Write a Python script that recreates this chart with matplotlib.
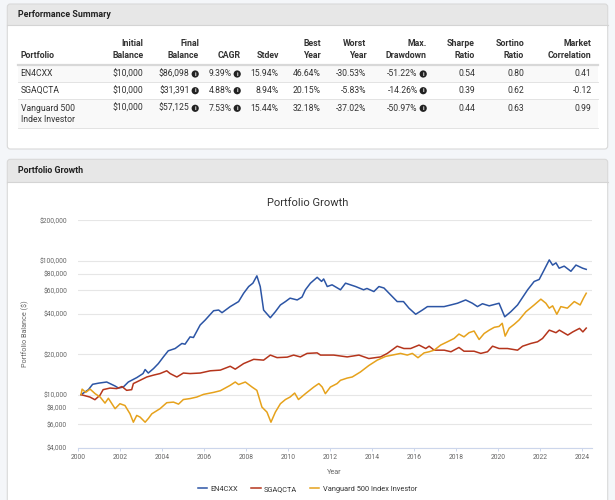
import matplotlib
matplotlib.use('Agg')
import matplotlib.pyplot as plt
from matplotlib.patches import FancyBboxPatch, Rectangle, Circle
from matplotlib.ticker import FixedLocator, FuncFormatter, NullLocator

plt.rcParams['font.family'] = ['Roboto', 'DejaVu Sans']

# ---- table data ----
col_heads = [('', 'Portfolio'), ('Initial', 'Balance'), ('Final', 'Balance'), ('', 'CAGR'),
             ('', 'Stdev'), ('Best', 'Year'), ('Worst', 'Year'), ('Max.', 'Drawdown'),
             ('Sharpe', 'Ratio'), ('Sortino', 'Ratio'), ('Market', 'Correlation')]
portfolios = ['EN4CXX', 'SGAQCTA', 'Vanguard 500\nIndex Investor']
initial_balance = ['$10,000', '$10,000', '$10,000']
final_balance = ['$86,098', '$31,391', '$57,125']
cagr = ['9.39%', '4.88%', '7.53%']
stdev = ['15.94%', '8.94%', '15.44%']
best_year = ['46.64%', '20.15%', '32.18%']
worst_year = ['-30.53%', '-5.83%', '-37.02%']
max_drawdown = ['-51.22%', '-14.26%', '-50.97%']
sharpe = ['0.54', '0.39', '0.44']
sortino = ['0.80', '0.62', '0.63']
market_corr = ['0.41', '-0.12', '0.99']

# ---- growth series ----
en_years = [2000.15, 2000.5, 2000.7, 2001.0, 2001.37, 2001.77, 2001.93, 2002.16, 2002.4, 2002.8,
            2003.1, 2003.2, 2003.35, 2003.6, 2003.83, 2004.07, 2004.3, 2004.63, 2004.95, 2005.1,
            2005.34, 2005.5, 2005.82, 2006.06, 2006.46, 2006.7, 2006.86, 2007.25, 2007.65, 2007.89,
            2008.13, 2008.33, 2008.52, 2008.68, 2008.84, 2009.16, 2009.4, 2009.64, 2009.88, 2010.1,
            2010.44, 2010.67, 2010.83, 2011.07, 2011.39, 2011.6, 2011.7, 2011.87, 2012.1, 2012.5,
            2012.74, 2013.22, 2013.6, 2013.76, 2014.09, 2014.33, 2014.57, 2014.89, 2015.2, 2015.5,
            2015.76, 2016.08, 2016.4, 2016.64, 2016.96, 2017.43, 2017.75, 2018.07, 2018.46, 2018.78,
            2019.02, 2019.26, 2019.58, 2020.05, 2020.32, 2020.61, 2020.93, 2021.41, 2021.72, 2021.96,
            2022.2, 2022.44, 2022.6, 2022.76, 2022.91, 2023.15, 2023.47, 2023.71, 2024.03, 2024.2]
en_values = [10000, 10900, 11950, 12200, 12430, 11600, 11200, 11400, 12430, 13400,
             14370, 15400, 14500, 15660, 17060, 19130, 21240, 22100, 24100, 23800,
             26990, 26700, 33100, 36050, 42300, 42800, 40900, 45400, 49500, 57100,
             64100, 67900, 77000, 64100, 42800, 37500, 41600, 46700, 49500, 52500,
             50900, 53500, 60600, 67900, 75100, 70000, 73000, 64100, 66000, 60600,
             67900, 64100, 60600, 62000, 58800, 64100, 62500, 55500, 49500, 49500,
             44200, 39800, 42800, 45400, 45400, 45400, 46700, 48100, 50900, 48100,
             45400, 47700, 46000, 48100, 38100, 41600, 46700, 60600, 69900, 72400,
             85500, 101300, 92600, 96300, 87800, 91000, 83300, 92700, 87800, 86098]

sg_years = [2000.15, 2000.57, 2000.81, 2001.05, 2001.2, 2001.53, 2001.85, 2002.1, 2002.32, 2002.56,
            2002.64, 2002.96, 2003.28, 2003.6, 2003.91, 2004.23, 2004.39, 2004.71, 2005.02, 2005.34,
            2005.82, 2006.3, 2006.78, 2007.25, 2007.49, 2007.89, 2008.37, 2008.84, 2009.16, 2009.48,
            2009.96, 2010.27, 2010.59, 2010.91, 2011.39, 2011.55, 2012.18, 2012.82, 2013.38, 2013.85,
            2014.41, 2014.73, 2015.2, 2015.52, 2015.84, 2016.24, 2016.56, 2016.72, 2016.96, 2017.44,
            2017.76, 2018.14, 2018.38, 2018.86, 2019.18, 2019.5, 2019.74, 2020.05, 2020.45, 2020.93,
            2021.17, 2021.56, 2021.88, 2022.12, 2022.44, 2022.76, 2022.92, 2023.32, 2023.56, 2023.88,
            2024.04, 2024.2]
sg_values = [10000, 9600, 9170, 9900, 10900, 11200, 11100, 11500, 10770, 10900,
             12100, 12800, 13550, 13990, 14370, 15070, 14370, 13550, 14500, 14370,
             14500, 15070, 15250, 16290, 15500, 17060, 18350, 18100, 19740, 18900,
             19050, 19740, 19130, 20320, 20500, 19740, 19740, 19130, 19740, 18600,
             19130, 20320, 23000, 22100, 22100, 23450, 22100, 23000, 21480, 21480,
             20900, 22500, 21100, 21100, 20320, 20900, 23000, 22100, 22100, 21480,
             23000, 24100, 24800, 26270, 30310, 29000, 30310, 27840, 29400, 31230,
             29400, 31391]

vf_years = [2000.15, 2000.2, 2000.37, 2000.58, 2000.82, 2001.06, 2001.29, 2001.45, 2001.77, 2002.0,
            2002.24, 2002.48, 2002.64, 2002.8, 2002.96, 2003.2, 2003.36, 2003.52, 2003.91, 2004.23,
            2004.55, 2004.79, 2005.02, 2005.34, 2005.66, 2005.98, 2006.46, 2006.78, 2007.25, 2007.49,
            2007.65, 2007.97, 2008.29, 2008.52, 2008.76, 2009.0, 2009.19, 2009.4, 2009.64, 2009.88,
            2010.1, 2010.32, 2010.5, 2010.83, 2011.23, 2011.47, 2011.63, 2011.78, 2012.02, 2012.34,
            2012.5, 2012.82, 2013.06, 2013.45, 2013.85, 2014.25, 2014.65, 2014.97, 2015.36, 2015.68,
            2015.92, 2016.19, 2016.48, 2016.72, 2016.96, 2017.27, 2017.59, 2017.91, 2018.14, 2018.38,
            2018.62, 2018.86, 2019.1, 2019.34, 2019.58, 2019.82, 2020.05, 2020.2, 2020.34, 2020.53,
            2020.77, 2021.0, 2021.33, 2021.72, 2022.04, 2022.28, 2022.44, 2022.6, 2022.8, 2022.99,
            2023.3, 2023.63, 2023.91, 2024.07, 2024.2]
vf_values = [10000, 11000, 10400, 11000, 10170, 9600, 8650, 9400, 7860, 8560,
             8300, 7200, 6230, 7000, 6800, 6230, 6660, 7200, 7860, 8710,
             8800, 8500, 9200, 9350, 9600, 10050, 10400, 10700, 11740, 12430,
             11900, 12430, 11400, 10770, 8080, 7410, 6230, 7410, 8560, 9200,
             9600, 10280, 9200, 10170, 11400, 12100, 11400, 10170, 11400, 12100,
             12800, 13300, 13550, 14770, 16500, 18100, 19300, 19740, 20320, 19740,
             20320, 18870, 20500, 20900, 21480, 23450, 24800, 26270, 28330, 27000,
             29000, 29850, 25800, 28600, 30300, 31800, 32300, 34100, 27340, 31300,
             33500, 36050, 41600, 46700, 51600, 48100, 44200, 46000, 39800, 45400,
             44200, 49500, 46700, 52500, 57125]

y_ticks = [4000, 6000, 8000, 10000, 20000, 40000, 60000, 80000, 100000, 200000]
x_ticks = list(range(2000, 2025, 2))

BLUE, RED, ORANGE = '#2c55a5', '#b5351c', '#e6a21c'
TXT = '#333333'

fig = plt.figure(figsize=(6.15, 5), dpi=100)
fig.patch.set_facecolor('#f4f6f9')

# background canvas in pixel coordinates (y grows downward)
bg = fig.add_axes([0, 0, 1, 1], zorder=0)
bg.set_xlim(0, 615)
bg.set_ylim(500, 0)
bg.axis('off')


def panel(top, bottom, head_bottom, title):
    x0, x1 = 7.3, 607.7
    bg.add_patch(FancyBboxPatch((x0, top), x1 - x0, bottom - top,
                                boxstyle='round,pad=0,rounding_size=3',
                                fc='white', ec='none'))
    bg.add_patch(FancyBboxPatch((x0, top), x1 - x0, head_bottom - top + 5,
                                boxstyle='round,pad=0,rounding_size=3',
                                fc='#e7e7e7', ec='none'))
    bg.add_patch(Rectangle((x0 + 0.5, head_bottom), x1 - x0 - 1, 6, fc='white', ec='none'))
    bg.plot([x0, x1], [head_bottom, head_bottom], color='#d4d4d4', lw=0.8)
    bg.add_patch(FancyBboxPatch((x0, top), x1 - x0, bottom - top,
                                boxstyle='round,pad=0,rounding_size=3',
                                fc='none', ec='#d9d9d9', lw=0.8))
    bg.text(17.7, (top + head_bottom) / 2, title, fontsize=6.4, fontweight='bold',
            color='#222222', ha='left', va='center')


panel(4, 149, 25.3, 'Performance Summary')
panel(159.3, 520, 181.7, 'Portfolio Growth')

# ---- table ----
tbl_x0, tbl_x1 = 17.7, 598.3
col_right = [None, 143.3, 199, 241, 278.7, 320.7, 366.3, 427, 475, 524, 591.7]
row_top = [64.7, 82.3, 99.3]
row_bot = [82.3, 99.3, 128.3]
row_y = [74, 90.7, 108.3]

for i in range(3):
    if i != 1:
        bg.add_patch(Rectangle((tbl_x0, row_top[i]), tbl_x1 - tbl_x0, row_bot[i] - row_top[i],
                               fc='#f9f9f9', ec='none'))
    bg.plot([tbl_x0, tbl_x1], [row_bot[i], row_bot[i]], color='#e3e3e3', lw=0.7)
bg.plot([tbl_x0, tbl_x1], [64.7, 64.7], color='#d8d8d8', lw=1.6)

for j, (l1, l2) in enumerate(col_heads):
    if j == 0:
        bg.text(20.7, 55.3, l2, fontsize=6.3, fontweight='bold', color=TXT, ha='left', va='center')
        continue
    if l1:
        bg.text(col_right[j], 43.7, l1, fontsize=6.3, fontweight='bold', color=TXT,
                ha='right', va='center')
    bg.text(col_right[j], 55.3, l2, fontsize=6.3, fontweight='bold', color=TXT,
            ha='right', va='center')


def info_icon(xc, yc):
    bg.add_patch(Circle((xc, yc), 3.6, fc='#222222', ec='none'))
    bg.text(xc, yc + 0.2, 'i', fontsize=4.2, fontweight='bold', color='white',
            ha='center', va='center')


columns = [initial_balance, final_balance, cagr, stdev, best_year, worst_year,
           max_drawdown, sharpe, sortino, market_corr]
with_icon = {2, 3, 7}
for i in range(3):
    name_lines = portfolios[i].split('\n')
    for k, ln in enumerate(name_lines):
        bg.text(20.7, row_y[i] + 11 * k, ln, fontsize=6.2, color=TXT, ha='left', va='center')
    for j, col in enumerate(columns, start=1):
        xr = col_right[j]
        if j in with_icon:
            bg.text(xr - 9.3, row_y[i], col[i], fontsize=6.2, color=TXT, ha='right', va='center')
            info_icon(xr - 3.8, row_y[i])
        else:
            bg.text(xr, row_y[i], col[i], fontsize=6.2, color=TXT, ha='right', va='center')

# ---- chart ----
bg.text(307.7, 202.7, 'Portfolio Growth', fontsize=8, color=TXT, ha='center', va='center')

ax = fig.add_axes([77.7 / 615, 1 - 448 / 500, (591.7 - 77.7) / 615, (448 - 220.3) / 500], zorder=1)
ax.patch.set_alpha(0)

l1, = ax.plot(en_years, en_values, color=BLUE, lw=1.1, label='EN4CXX')
l2, = ax.plot(sg_years, sg_values, color=RED, lw=1.1, label='SGAQCTA')
l3, = ax.plot(vf_years, vf_values, color=ORANGE, lw=1.1, label='Vanguard 500 Index Investor')

ax.set_yscale('log')
ax.set_ylim(4000, 200000)
ax.set_xlim(1999.99, 2024.46)
ax.yaxis.set_major_locator(FixedLocator(y_ticks))
ax.yaxis.set_minor_locator(NullLocator())
ax.yaxis.set_major_formatter(FuncFormatter(lambda v, p: '${:,.0f}'.format(v)))
ax.set_xticks(x_ticks)
ax.xaxis.set_minor_locator(NullLocator())

ax.grid(axis='y', color='#e6e6e6', lw=0.8)
ax.set_axisbelow(True)
for s in ['top', 'right', 'left']:
    ax.spines[s].set_visible(False)
ax.spines['bottom'].set_color('#ccd6eb')
ax.spines['bottom'].set_linewidth(0.8)
ax.tick_params(axis='y', length=0, pad=7.6, labelsize=4.9, labelcolor='#666666')
ax.tick_params(axis='x', length=2.4, width=0.7, color='#ccd6eb', pad=1.8,
               labelsize=4.9, labelcolor='#666666')

ax.set_ylabel('Portfolio Balance ($)', fontsize=5.2, color='#666666')
ax.yaxis.set_label_coords(-0.0942, 0.5)
ax.set_xlabel('Year', fontsize=5.2, color='#666666')
ax.xaxis.set_label_coords(0.5, -0.092)

fig.legend(handles=[l1, l2, l3], loc='center', bbox_to_anchor=(307.5 / 615, 1 - 489.3 / 500),
           ncol=3, frameon=False, fontsize=5.3, labelcolor=TXT, handlelength=1.27,
           handletextpad=0.45, columnspacing=1.77)

fig.savefig('out.png', dpi=100, facecolor=fig.get_facecolor())
